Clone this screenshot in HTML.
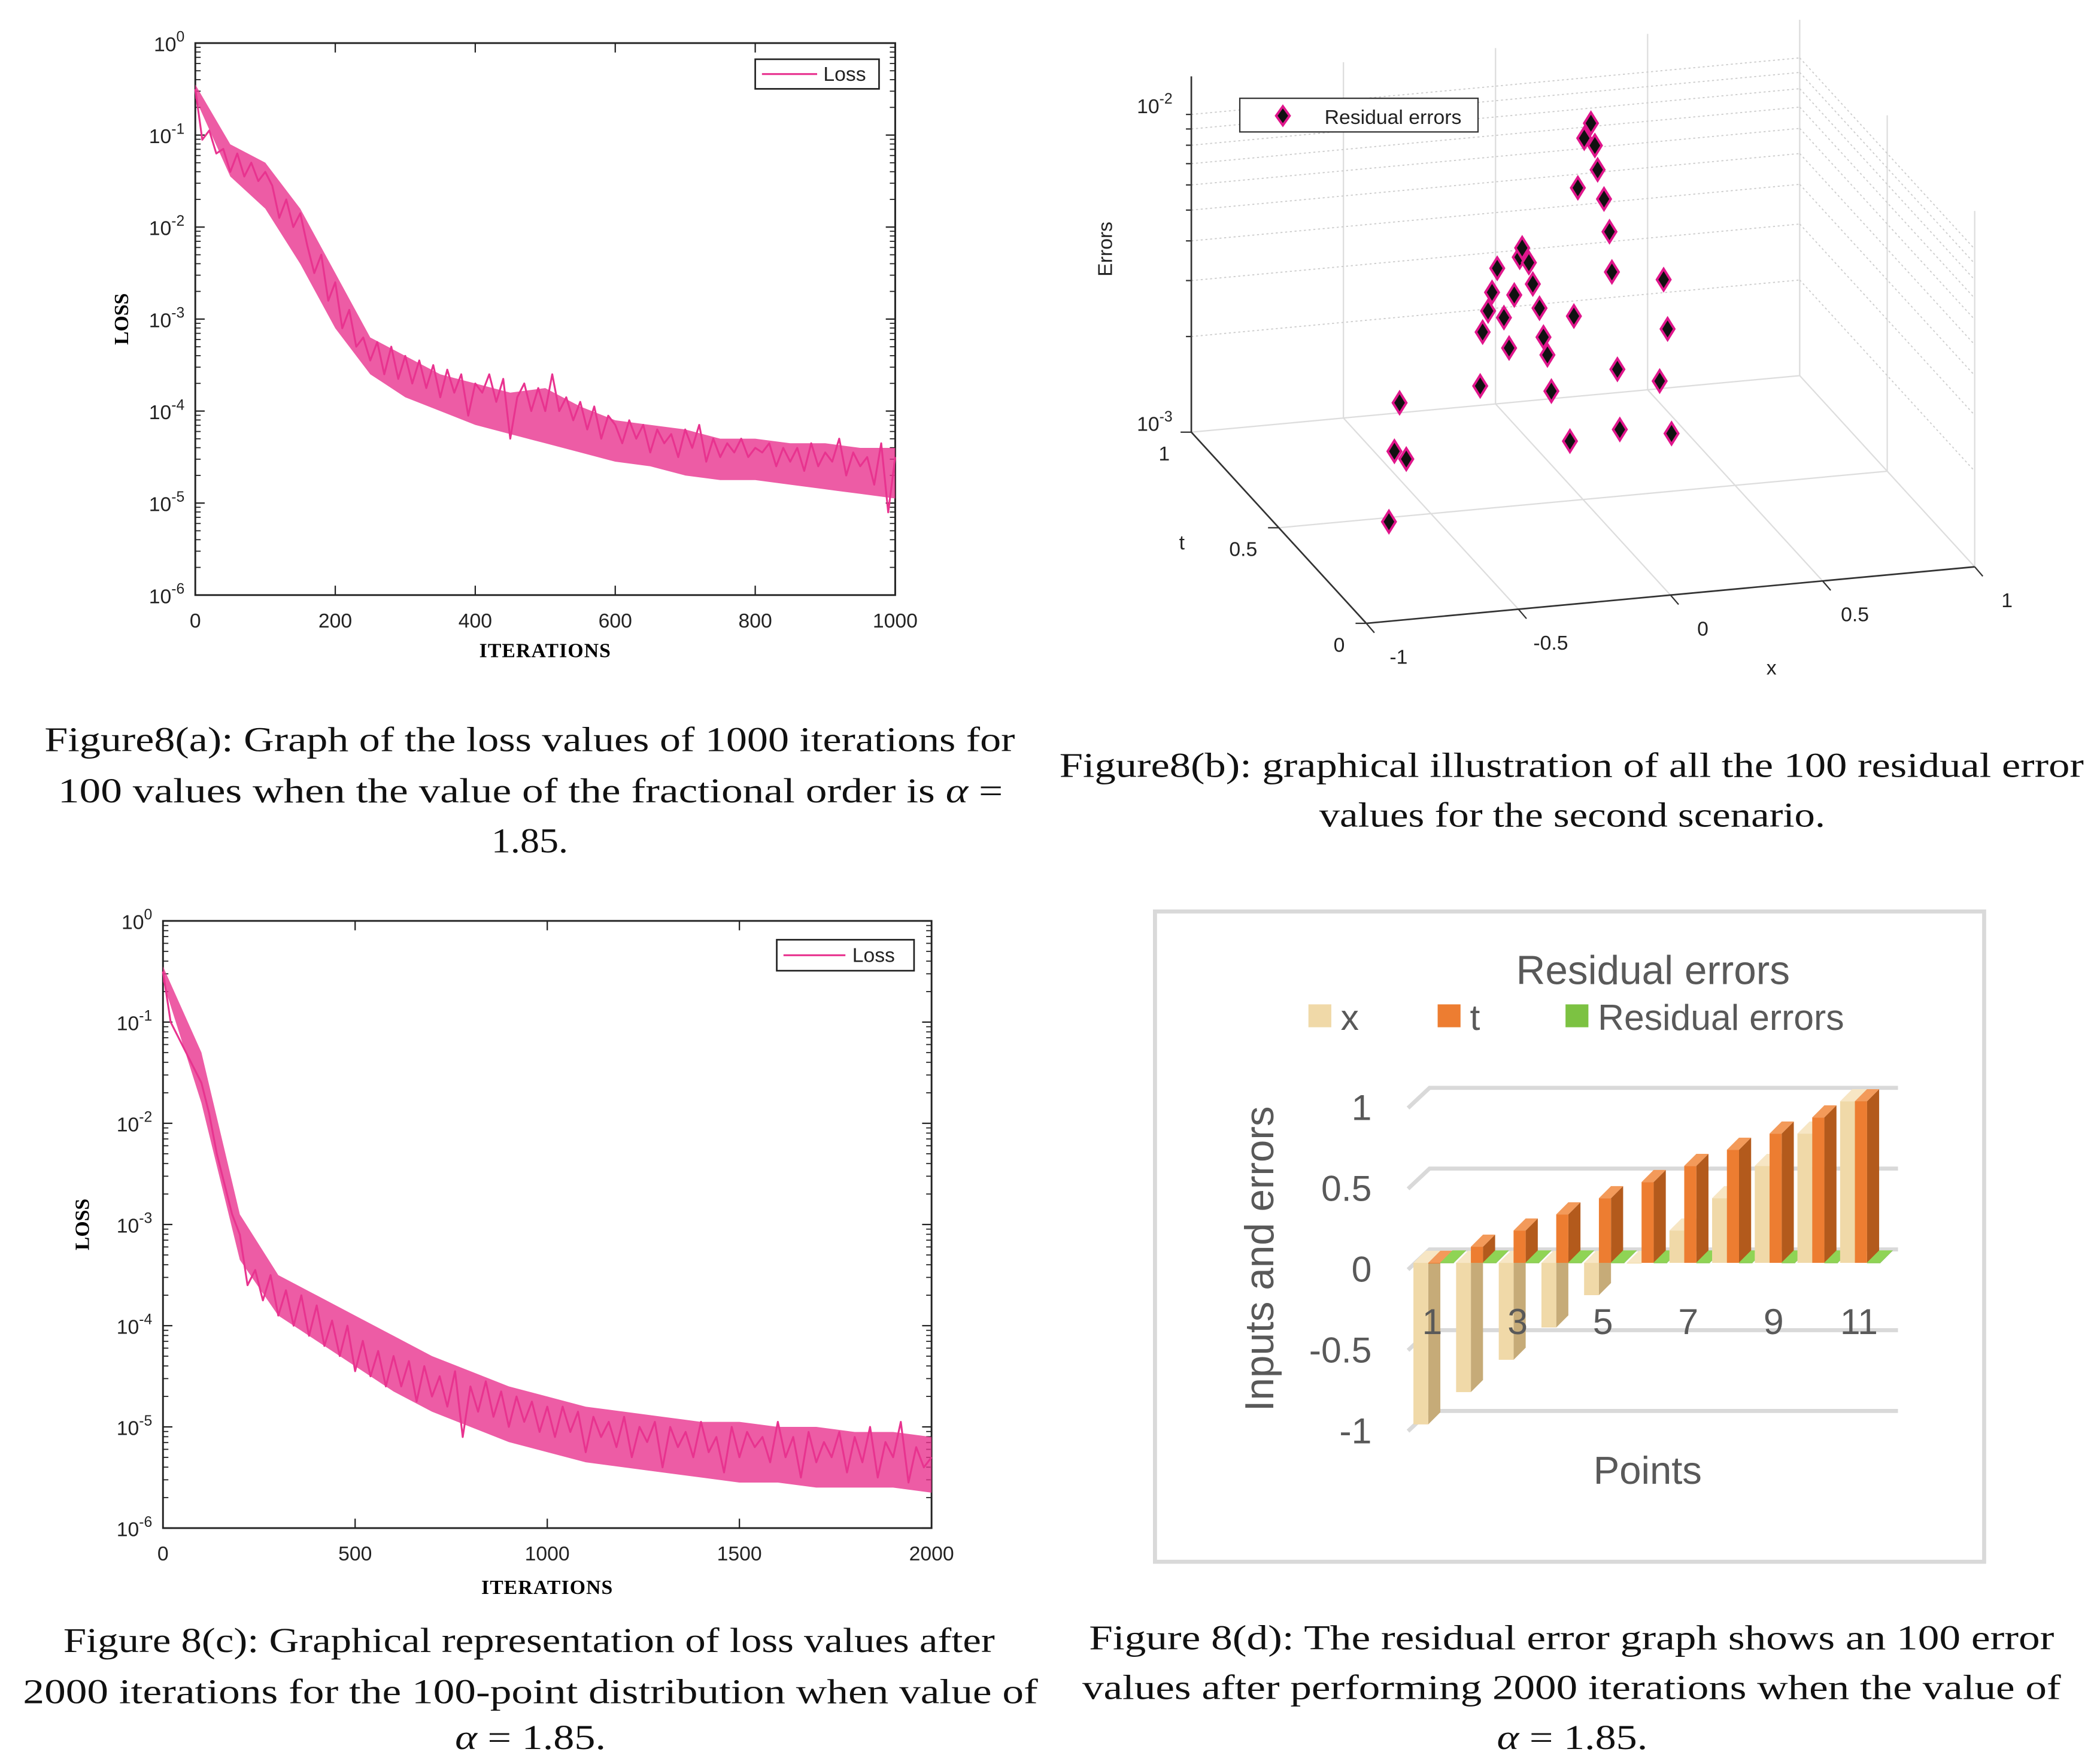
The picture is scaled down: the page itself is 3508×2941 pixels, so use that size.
<!DOCTYPE html>
<html><head><meta charset="utf-8"><style>
html,body{margin:0;padding:0;background:#fff}
svg{display:block}
.tk{font-family:"Liberation Sans",sans-serif;font-size:15px;fill:#222}
.cap{font-family:"Liberation Serif",serif;font-size:26px;fill:#111}
.dl{font-family:"Liberation Sans",sans-serif;fill:#595959}
</style></head><body>
<svg id="root" xmlns="http://www.w3.org/2000/svg" width="3508" height="2941" viewBox="0 0 1560 1308">
<rect x="0" y="0" width="1560" height="1308" fill="#fff"/>
<g id="ga"></g>
<g id="gc"></g>
<g id="gb"></g>
<g id="gd"></g>
<g>
<text class="cap" x="33" y="558" textLength="721" lengthAdjust="spacingAndGlyphs">Figure8(a): Graph of the loss values of  1000  iterations for</text>
<text class="cap" x="43" y="596" textLength="702" lengthAdjust="spacingAndGlyphs">100  values when the value of the fractional order is  <tspan font-style="italic">α</tspan> =</text>
<text class="cap" x="365" y="633" textLength="57" lengthAdjust="spacingAndGlyphs">1.85.</text>
<text class="cap" x="787" y="577" textLength="761" lengthAdjust="spacingAndGlyphs">Figure8(b): graphical illustration of all the  100  residual error</text>
<text class="cap" x="980" y="614" textLength="376" lengthAdjust="spacingAndGlyphs">values for the second scenario.</text>
<text class="cap" x="47" y="1227" textLength="692" lengthAdjust="spacingAndGlyphs">Figure 8(c): Graphical representation of loss values after</text>
<text class="cap" x="17" y="1265" textLength="754" lengthAdjust="spacingAndGlyphs">2000  iterations for the  100-point distribution when value of</text>
<text class="cap" x="338" y="1299" textLength="112" lengthAdjust="spacingAndGlyphs"><tspan font-style="italic">α</tspan> = 1.85.</text>
<text class="cap" x="809" y="1225" textLength="717" lengthAdjust="spacingAndGlyphs">Figure 8(d): The residual error graph shows an  100  error</text>
<text class="cap" x="804" y="1262" textLength="727" lengthAdjust="spacingAndGlyphs">values after performing  2000  iterations when the value of</text>
<text class="cap" x="1112" y="1299" textLength="112" lengthAdjust="spacingAndGlyphs"><tspan font-style="italic">α</tspan> = 1.85.</text>
</g>
</svg>
<script>
// ---------- data ----------
const lossA = [-0.5,-1.05,-0.95,-1.2,-1.15,-1.4,-1.2,-1.45,-1.3,-1.5,-1.4,
-1.55,-1.9,-1.7,-2.0,-1.85,-2.2,-2.5,-2.3,-2.8,-2.6,
-3.1,-2.9,-3.3,-3.2,-3.45,-3.25,-3.6,-3.3,-3.65,-3.4,
-3.7,-3.45,-3.75,-3.5,-3.85,-3.55,-3.8,-3.6,-4.05,-3.7,
-3.8,-3.6,-3.9,-3.65,-4.3,-3.85,-3.7,-4.0,-3.75,-4.0,
-3.6,-4.0,-3.85,-4.1,-3.9,-4.2,-3.95,-4.3,-4.05,-4.15,
-4.35,-4.1,-4.3,-4.15,-4.45,-4.2,-4.35,-4.25,-4.5,-4.2,
-4.4,-4.15,-4.55,-4.3,-4.5,-4.35,-4.45,-4.3,-4.5,-4.4,
-4.45,-4.35,-4.6,-4.4,-4.55,-4.4,-4.65,-4.35,-4.6,-4.45,
-4.55,-4.3,-4.7,-4.45,-4.6,-4.5,-4.8,-4.35,-5.1,-4.5];
const lossAUpper = [-0.45,-1.1,-1.3,-1.8,-2.5,-3.2,-3.4,-3.6,-3.7,-3.8,-3.75,-3.95,-4.1,-4.15,-4.2,-4.3,-4.3,-4.35,-4.35,-4.4,-4.4];
const lossALower = [-0.6,-1.45,-1.8,-2.4,-3.1,-3.6,-3.85,-4.0,-4.15,-4.25,-4.35,-4.45,-4.55,-4.6,-4.7,-4.75,-4.75,-4.8,-4.85,-4.9,-4.95];
const lossC = [-0.5,-1.0,-1.15,-1.3,-1.45,-1.6,-1.9,-2.3,-2.6,-2.9,-3.1,
-3.6,-3.45,-3.75,-3.5,-3.9,-3.65,-4.0,-3.7,-4.1,
-3.8,-4.2,-3.95,-4.3,-4.0,-4.45,-4.15,-4.5,-4.25,-4.6,
-4.3,-4.6,-4.35,-4.75,-4.4,-4.7,-4.5,-4.8,-4.45,-5.1,
-4.6,-4.85,-4.55,-4.9,-4.65,-5.0,-4.7,-4.95,-4.75,-5.05,
-4.8,-5.1,-4.8,-5.05,-4.85,-5.25,-4.9,-5.1,-4.95,-5.2,
-4.9,-5.3,-5.0,-5.15,-4.95,-5.4,-5.0,-5.2,-5.05,-5.3,
-4.95,-5.25,-5.1,-5.45,-5.0,-5.3,-5.05,-5.2,-5.1,-5.35,
-4.95,-5.3,-5.1,-5.5,-5.05,-5.35,-5.15,-5.3,-5.05,-5.45,
-5.1,-5.35,-5.0,-5.5,-5.15,-5.3,-4.95,-5.55,-5.2,-5.4,-5.3];
const lossCUpper = [-0.45,-1.3,-2.9,-3.5,-3.7,-3.9,-4.1,-4.3,-4.45,-4.6,-4.7,-4.8,-4.85,-4.9,-4.95,-4.95,-5.0,-5.0,-5.05,-5.05,-5.1];
const lossCLower = [-0.6,-1.8,-3.35,-3.9,-4.15,-4.4,-4.65,-4.85,-5.0,-5.15,-5.25,-5.35,-5.4,-5.45,-5.5,-5.55,-5.55,-5.6,-5.6,-5.6,-5.65];
const ticksA = [0,200,400,600,800,1000];
const ticksC = [0,500,1000,1500,2000];
const decades = [0,-1,-2,-3,-4,-5,-6];
// 3D residual points (x, t, error)
const resX = [-0.603,-0.62,-0.581,-0.638,-0.338,-0.33,-0.312,-0.299,-0.282,-0.26,-0.243,-0.226,-0.208,-0.2,-0.178,-0.165,-0.143,-0.13,-0.117,-0.104,-0.043,-0.03,-0.017,0.004,0.026,0.039,0.048,0.069,0.087,0.095,0.113,0.121,0.252,0.265,0.278,0.291];
const resT = [0.5,0.5,0.5,0.5,0.5,0.5,0.5,0.5,0.5,0.5,0.5,0.5,0.5,0.5,0.5,0.5,0.5,0.5,0.5,0.5,0.5,0.5,0.5,0.5,0.5,0.5,0.5,0.5,0.5,0.5,0.5,0.5,0.5,0.5,0.5,0.5];
const resErr = [0.00228,0.00161,0.00151,0.00097,0.00244,0.0036,0.00418,0.00477,0.00566,0.00394,0.00315,0.00461,0.00604,0.00645,0.00577,0.00493,0.00412,0.00333,0.00292,0.00224,0.00154,0.0038,0.0096,0.0137,0.0152,0.0129,0.0108,0.0087,0.00684,0.0051,0.00251,0.00162,0.00224,0.00466,0.00325,0.00152];
const xTicks3 = [-1,-0.5,0,0.5,1];
const tTicks3 = [0,0.5,1];
// bar chart d
const points = [1,2,3,4,5,6,7,8,9,10,11];
const xVals = [-1,-0.8,-0.6,-0.4,-0.2,0,0.2,0.4,0.6,0.8,1];
const tVals = [0,0.1,0.2,0.3,0.4,0.5,0.6,0.7,0.8,0.9,1];
const errVals = [0.002,0.002,0.002,0.002,0.002,0.002,0.002,0.002,0.002,0.002,0.002];
const dTicks = [1,0.5,0,-0.5,-1];
const dTickLabels = ["1","0.5","0","-0.5","-1"];
const dCatLabels = ["1","3","5","7","9","11"];

// ---------- helpers ----------
const NS='http://www.w3.org/2000/svg';
function mk(parent,tag,attrs,txt){const e=document.createElementNS(NS,tag);for(const k in attrs)e.setAttribute(k,attrs[k]);if(txt!==undefined)e.textContent=txt;parent.appendChild(e);return e;}
function nm(e,n){


return e;}
const PINK='#e8338f';

// ---------- loss charts ----------
function lossChart(g,L,R,T,B,maxIt,ticks,data,up,lo,leg,lblY,xlabY,ylabX,pre){
  const ax=v=>L+v/maxIt*(R-L);
  const ay=l=>T+(-l)/6*(B-T);
  nm(mk(g,'rect',{x:L,y:T,width:R-L,height:B-T,fill:'#fff',stroke:'#222','stroke-width':1.3}),pre+'plot-area');
  decades.forEach(d=>{
    const y=ay(d);
    nm(mk(g,'line',{x1:L,x2:L+7,y1:y,y2:y,stroke:'#222','stroke-width':1}),pre+'y-tick');
    nm(mk(g,'line',{x1:R,x2:R-7,y1:y,y2:y,stroke:'#222','stroke-width':1}),pre+'y-tick-right');
    const t=nm(mk(g,'text',{x:L-8,y:y+6,'text-anchor':'end',class:'tk'}),pre+'y-tick-label');
    mk(t,'tspan',{},'10');
    mk(t,'tspan',{dy:-7,'font-size':11},String(d));
    if(d>-6){for(let k=2;k<10;k++){const ym=ay(d-1+Math.log10(k));
      nm(mk(g,'line',{x1:L,x2:L+4,y1:ym,y2:ym,stroke:'#222','stroke-width':0.8}),pre+'y-minor-tick');
      nm(mk(g,'line',{x1:R,x2:R-4,y1:ym,y2:ym,stroke:'#222','stroke-width':0.8}),pre+'y-minor-tick-right');}}
  });
  ticks.forEach(v=>{const x=ax(v);
    nm(mk(g,'line',{x1:x,x2:x,y1:B,y2:B-7,stroke:'#222','stroke-width':1}),pre+'x-tick');
    nm(mk(g,'line',{x1:x,x2:x,y1:T,y2:T+7,stroke:'#222','stroke-width':1}),pre+'x-tick-top');
    nm(mk(g,'text',{x:x,y:lblY,'text-anchor':'middle',class:'tk'},String(v)),pre+'x-tick-label');
  });
  const upP=up.map((l,i)=>ax(i*maxIt/(up.length-1)).toFixed(2)+','+ay(l).toFixed(2));
  const loP=lo.map((l,i)=>ax(i*maxIt/(lo.length-1)).toFixed(2)+','+ay(l).toFixed(2)).reverse();
  nm(mk(g,'polygon',{points:upP.concat(loP).join(' '),fill:PINK,opacity:0.8}),pre+'loss-noise-band');
  const pts=data.map((l,i)=>ax(i*maxIt/(data.length-1)).toFixed(2)+','+ay(l).toFixed(2)).join(' ');
  nm(mk(g,'polyline',{points:pts,fill:'none',stroke:PINK,'stroke-width':1.4,'stroke-linejoin':'round'}),pre+'loss-line');
  nm(mk(g,'rect',{x:leg[0],y:leg[1],width:leg[2],height:leg[3],fill:'#fff',stroke:'#222','stroke-width':1.2}),pre+'legend-box');
  nm(mk(g,'line',{x1:leg[0]+5,x2:leg[0]+leg[2]*0.5,y1:leg[1]+leg[3]/2,y2:leg[1]+leg[3]/2,stroke:PINK,'stroke-width':1.4}),pre+'legend-swatch');
  nm(mk(g,'text',{x:leg[0]+leg[2]*0.55,y:leg[1]+leg[3]/2+5,class:'tk','font-size':14},'Loss'),pre+'legend-label');
  nm(mk(g,'text',{x:(L+R)/2,y:xlabY,'text-anchor':'middle','font-family':'Liberation Serif, serif','font-size':15,'font-weight':'bold','letter-spacing':0.5},'ITERATIONS'),pre+'x-axis-title');
  nm(mk(g,'text',{x:ylabX,y:(T+B)/2,'text-anchor':'middle','font-family':'Liberation Serif, serif','font-size':15,'font-weight':'bold',transform:'rotate(-90 '+ylabX+' '+(T+B)/2+')'},'LOSS'),pre+'y-axis-title');
}
lossChart(document.getElementById('ga'),145,665,32,442,1000,ticksA,lossA,lossAUpper,lossALower,[561,44,92,22],466,488,95,'a-');
lossChart(document.getElementById('gc'),121,692,684,1135,2000,ticksC,lossC,lossCUpper,lossCLower,[577,698,102,23],1159,1184,66,'c-');

// ---------- 3D chart b ----------
(function(){
  const g=document.getElementById('gb');
  const P=(x,t,lz)=>[1015+(x+1)/2*452-t*130, 463-(x+1)/2*42-t*142-lz*236];
  const ln=(a,b,st,w,da,n)=>{const e=mk(g,'line',{x1:a[0],y1:a[1],x2:b[0],y2:b[1],stroke:st,'stroke-width':w});if(da)e.setAttribute('stroke-dasharray',da);nm(e,n);return e;};
  const ZT=1.12;
  xTicks3.forEach(x=>ln(P(x,0,0),P(x,1,0),'#ddd',1,null,'floor-grid-x'));
  tTicks3.forEach(t=>ln(P(-1,t,0),P(1,t,0),'#ddd',1,null,'floor-grid-t'));
  xTicks3.forEach(x=>ln(P(x,1,0),P(x,1,ZT),'#ddd',1,null,'back-wall-grid'));
  tTicks3.forEach(t=>ln(P(1,t,0),P(1,t,ZT),'#ddd',1,null,'side-wall-grid'));
  for(let k=2;k<=10;k++){const lz=Math.log10(k);
    ln(P(-1,1,lz),P(1,1,lz),'#ccc',0.8,'1.5,2','back-wall-minor-grid');
    ln(P(1,1,lz),P(1,0,lz),'#ccc',0.8,'1.5,2','side-wall-minor-grid');
    ln(P(-1,1,lz),[P(-1,1,lz)[0]-4,P(-1,1,lz)[1]],'#333',1,null,'z-minor-tick');}
  ln(P(-1,1,0),P(-1,1,ZT),'#333',1.2,null,'z-axis');
  ln(P(-1,0,0),P(1,0,0),'#333',1.2,null,'x-axis');
  ln(P(-1,0,0),P(-1,1,0),'#333',1.2,null,'t-axis');
  xTicks3.forEach(x=>{const p=P(x,0,0);
    ln(p,[p[0]+6,p[1]+7],'#333',1,null,'x-tick');
    nm(mk(g,'text',{x:p[0]+24,y:p[1]+30,'text-anchor':'middle',class:'tk',fill:'#333'},String(x)),'x-tick-label');});
  tTicks3.forEach(t=>{const p=P(-1,t,0);
    ln(p,[p[0]-8,p[1]],'#333',1,null,'t-tick');
    nm(mk(g,'text',{x:p[0]-16,y:p[1]+21,'text-anchor':'end',class:'tk',fill:'#333'},String(t)),'t-tick-label');});
  [[0,'-3'],[1,'-2']].forEach(z=>{const p=P(-1,1,z[0]);
    const t=nm(mk(g,'text',{x:p[0]-14,y:p[1]-1,'text-anchor':'end',class:'tk',fill:'#333'}),'z-tick-label');
    mk(t,'tspan',{},'10');mk(t,'tspan',{dy:-7,'font-size':11},z[1]);});
  nm(mk(g,'text',{x:1316,y:501,'text-anchor':'middle',class:'tk',fill:'#333',"font-size":16},'x'),'x-axis-title');
  nm(mk(g,'text',{x:878,y:408,'text-anchor':'middle',class:'tk',fill:'#333',"font-size":16},'t'),'t-axis-title');
  nm(mk(g,'text',{x:826,y:185,'text-anchor':'middle',class:'tk',fill:'#333',"font-size":16,transform:'rotate(-90 826 185)'},'Errors'),'z-axis-title');
  resErr.forEach((e,i)=>{const p=P(resX[i],resT[i],Math.log10(e)+3);
    const d=`M${p[0]},${p[1]-8} L${p[0]+5},${p[1]} L${p[0]},${p[1]+8} L${p[0]-5},${p[1]} Z`;
    nm(mk(g,'path',{d:d,fill:'#111',stroke:'#e0168c','stroke-width':1.8}),'residual-point');});
  nm(mk(g,'rect',{x:921,y:73,width:177,height:25,fill:'#fff',stroke:'#333','stroke-width':1}),'legend-box');
  nm(mk(g,'path',{d:'M953,79 L958,86 L953,93 L948,86 Z',fill:'#111',stroke:'#e0168c','stroke-width':1.8}),'legend-marker');
  nm(mk(g,'text',{x:984,y:92,class:'tk',fill:'#222'},'Residual errors'),'legend-label');
})();

// ---------- 3D bar chart d ----------
(function(){
  const g=document.getElementById('gd');
  nm(mk(g,'rect',{x:858,y:677,width:616,height:483,fill:'#fff',stroke:'#d9d9d9','stroke-width':3}),'chart-frame');
  nm(mk(g,'text',{x:1228,y:731,'text-anchor':'middle',class:'dl','font-size':30},'Residual errors'),'chart-title');
  const legs=[[972,'#f0d9a8','x'],[1068,'#ed7d31','t'],[1163,'#7cc242','Residual errors']];
  legs.forEach(l=>{nm(mk(g,'rect',{x:l[0],y:746,width:17,height:17,fill:l[1]}),'legend-swatch');
    nm(mk(g,'text',{x:l[0]+24,y:765,class:'dl','font-size':27},l[2]),'legend-label');});
  const yb=v=>928-v*120, yf=v=>938-v*120;
  dTicks.forEach((v,i)=>{const y=yb(v);
    nm(mk(g,'polyline',{points:`1046,${y+15} 1062,${y} 1410,${y}`,fill:'none',stroke:'#d9d9d9','stroke-width':3}),'gridline');
    nm(mk(g,'text',{x:1019,y:y+24,'text-anchor':'end',class:'dl','font-size':27},dTickLabels[i]),'y-tick-label');});
  const cx=i=>1064+(i-1)*31.7;
  const DX=9,DY=-9;
  function bar(x0,w,v,cf,cs,ct,name){
    const y0=yf(0),y1=yf(v),top=Math.min(y0,y1),bot=Math.max(y0,y1);
    nm(mk(g,'polygon',{points:`${x0+w},${top} ${x0+w+DX},${top+DY} ${x0+w+DX},${bot+DY} ${x0+w},${bot}`,fill:cs}),name+'-side');
    nm(mk(g,'polygon',{points:`${x0},${top} ${x0+DX},${top+DY} ${x0+w+DX},${top+DY} ${x0+w},${top}`,fill:ct}),name+'-top');
    nm(mk(g,'rect',{x:x0,y:top,width:w,height:Math.max(bot-top,0.5),fill:cf}),name);
  }
  points.forEach((p,i)=>{const c=cx(p);
    bar(c-14,11,xVals[i],'#f0d9a8','#c6ab78','#f7e6c4','bar-x-'+p);
    bar(c-3,9,tVals[i],'#ed7d31','#b35a1c','#f39a5a','bar-t-'+p);
    bar(c+6,10,errVals[i],'#7cc242','#5a9a2a','#8fd455','bar-error-'+p);
  });
  dCatLabels.forEach((l,k)=>nm(mk(g,'text',{x:cx(1+2*k),y:991,'text-anchor':'middle',class:'dl','font-size':27},l),'x-tick-label'));
  nm(mk(g,'text',{x:1224,y:1102,'text-anchor':'middle',class:'dl','font-size':29},'Points'),'x-axis-title');
  nm(mk(g,'text',{x:946,y:935,'text-anchor':'middle',class:'dl','font-size':30,transform:'rotate(-90 946 935)'},'Inputs and errors'),'y-axis-title');
})();
</script>
</body></html>
